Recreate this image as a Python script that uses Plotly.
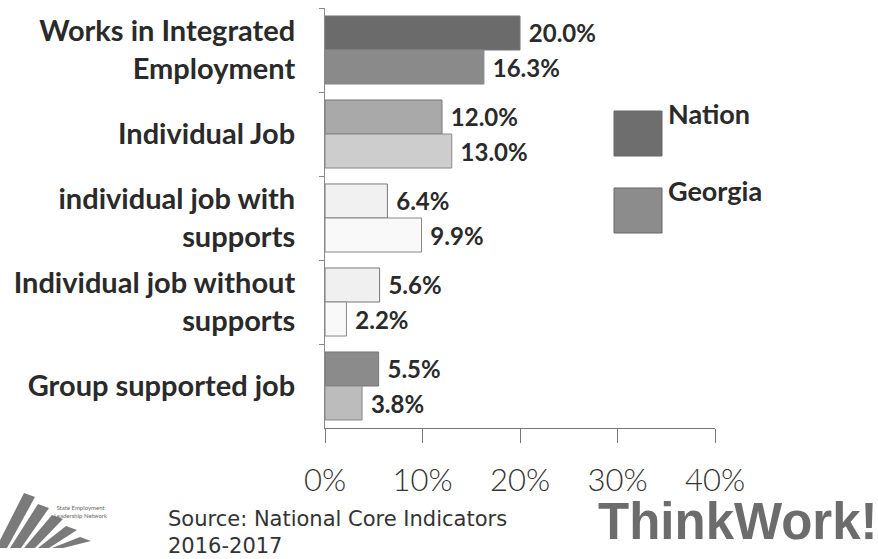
import plotly.graph_objects as go

categories = ["Works in Integrated<br>Employment", "Individual Job", "individual job with<br>supports",
              "Individual job without<br>supports", "Group supported job"]
nation = [20.0, 12.0, 6.4, 5.6, 5.5]
georgia = [16.3, 13.0, 9.9, 2.2, 3.8]
nation_colors = ["#6b6b6b", "#a9a9a9", "#f1f1f1", "#f0f0f0", "#8b8b8b"]
georgia_colors = ["#8a8a8a", "#cdcdcd", "#f9f9f9", "#f9f9f9", "#bcbcbc"]
tick_vals = [0, 10, 20, 30, 40]
tick_text = ["0%", "10%", "20%", "30%", "40%"]
legend_names = ["Nation", "Georgia"]
legend_colors = ["#6e6e6e", "#8c8c8c"]

W, H = 878, 559
L, R, T, B = 325, 878 - 715, 8, 559 - 428
pw, ph = W - L - R, H - T - B


def px(x):
    return (x - L) / pw


def py(y):
    return (H - B - y) / ph


FONT = "Lato, Open Sans, sans-serif"
label_font = dict(family=FONT, size=24, color="#2a2a2a")

fig = go.Figure()
fig.add_trace(go.Bar(
    y=categories, x=nation, orientation="h", name="Nation",
    marker=dict(color=nation_colors, line=dict(color="#777777", width=1)),
    text=[f"<b>\u00a0{v:.1f}%</b>" for v in nation], textposition="outside",
    textfont=label_font, cliponaxis=False, showlegend=False,
))
fig.add_trace(go.Bar(
    y=categories, x=georgia, orientation="h", name="Georgia",
    marker=dict(color=georgia_colors, line=dict(color="#888888", width=1)),
    text=[f"<b>\u00a0{v:.1f}%</b>" for v in georgia], textposition="outside",
    textfont=label_font, cliponaxis=False, showlegend=False,
))

# custom legend (tall swatches)
for i, (name, col) in enumerate(zip(legend_names, legend_colors)):
    top = 111 + i * 77
    fig.add_shape(type="rect", xref="paper", yref="paper",
                  x0=px(614), x1=px(662), y0=py(top + 45), y1=py(top),
                  fillcolor=col, line=dict(color="#666666", width=1))
    fig.add_annotation(xref="paper", yref="paper", x=px(666), y=py(top - 16),
                       xanchor="left", yanchor="top", showarrow=False,
                       text=f"<b>{name}</b>",
                       font=dict(family=FONT, size=27, color="#2a2a2a"))

# source text
src_font = dict(family="DejaVu Sans, sans-serif", size=21, color="#333333")
fig.add_annotation(xref="paper", yref="paper", x=px(166), y=py(505), xanchor="left", yanchor="top",
                   showarrow=False, text="Source: National Core Indicators", font=src_font)
fig.add_annotation(xref="paper", yref="paper", x=px(166), y=py(532), xanchor="left", yanchor="top",
                   showarrow=False, text="2016-2017", font=src_font)

# ThinkWork! logo text
fig.add_annotation(xref="paper", yref="paper", x=px(880), y=py(491), xanchor="right", yanchor="top",
                   showarrow=False, text="<b>ThinkWork!</b>",
                   font=dict(family="Liberation Sans, Arial, sans-serif", size=51, color="#6c6c6c"))

# left logo (stylised diagonal stripes)
for k in range(5):
    xa = 24 + k * 14
    ya = 493 + k * 11
    path = (f"M {px(xa - 28)},{py(548)} L {px(xa)},{py(ya)} L {px(xa + 11)},{py(ya + 4)} "
            f"L {px(xa - 17)},{py(548)} Z")
    fig.add_shape(type="path", xref="paper", yref="paper", path=path,
                  fillcolor="#7a7a7a", line=dict(width=0))
fig.add_annotation(xref="paper", yref="paper", x=px(52), y=py(502), xanchor="left", yanchor="top",
                   showarrow=False, text="State Employment<br>Leadership Network",
                   font=dict(family="Lato, sans-serif", size=6, color="#666666"))

fig.update_layout(
    width=W, height=H,
    margin=dict(l=L, r=R, t=T, b=B),
    paper_bgcolor="white", plot_bgcolor="white",
    barmode="group", bargap=0.19, bargroupgap=0.0,
    showlegend=False,
    xaxis=dict(range=[0, 40], tickvals=tick_vals, ticktext=tick_text,
               showgrid=False, zeroline=False, showline=True, linecolor="#777777", linewidth=1,
               ticks="outside", ticklen=14, tickcolor="#777777",
               ticklabelstandoff=11,
               tickfont=dict(family=FONT, size=31, color="#333333", weight=300)),
    yaxis=dict(autorange="reversed", showgrid=False, zeroline=False,
               showline=True, linecolor="#888888", linewidth=1,
               ticks="outside", ticklen=5, tickcolor="#888888", tickson="boundaries",
               ticklabelstandoff=23,
               tickfont=dict(family=FONT, size=29, color="#2a2a2a", weight="bold")),
)

fig.write_html("out.html", config={"displayModeBar": False})

with open("out.html", "r", encoding="utf-8") as f:
    html = f.read()
html = html.replace("<body>", '<body style="margin:0;padding:0;">', 1)
with open("out.html", "w", encoding="utf-8") as f:
    f.write(html)
